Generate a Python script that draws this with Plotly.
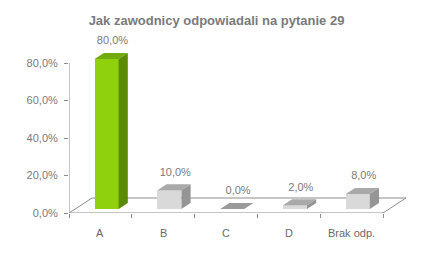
import plotly.graph_objects as go

# ---- data ----
categories = ["A", "B", "C", "D", "Brak odp."]
values = [80.0, 10.0, 0.0, 2.0, 8.0]
value_labels = ["80,0%", "10,0%", "0,0%", "2,0%", "8,0%"]
y_tickvals = [0, 20, 40, 60, 80]
y_ticktext = ["0,0%", "20,0%", "40,0%", "60,0%", "80,0%"]
title_text = "Jak zawodnicy odpowiadali na pytanie 29"

# ---- styling / geometry ----
W, H = 433, 256
ML, MR, MT, MB = 69, 20, 28, 43
px_per_cat = 62.8
px_per_pct = 1.875
depth_dx = 23 / px_per_cat      # floor depth in category units
depth_dy = 15 / px_per_pct      # floor depth in % units
t0, t1 = 0.27, 0.67              # bar depth position (front/back)
bar_w = 24 / px_per_cat

green = dict(front="#8ed10c", top="#71ab0e", side="#5b8a03")
gray = dict(front="#d9d9d9", top="#a9a9a9", side="#959595")
flat_col = "#9a9a9a"
axis_col = "#8c8c8c"
text_col = "#7a7a7a"
cat_col = "#6a6a6a"
font_fam = "Liberation Sans, Arial, sans-serif"

xmin = -0.5
xmax = xmin + (W - ML - MR) / px_per_cat
ymax = (H - MT - MB) / px_per_pct
n = len(categories)

fig = go.Figure()

# front faces (bars)
fx = [i + t0 * depth_dx for i in range(n)]
front_cols = [green["front"] if i == 0 else gray["front"] for i in range(n)]
fig.add_trace(go.Bar(
    x=fx, y=values, base=[t0 * depth_dy] * n, width=bar_w,
    marker=dict(color=front_cols, line=dict(width=0)),
    hoverinfo="skip", showlegend=False))

ddx = (t1 - t0) * depth_dx
ddy = (t1 - t0) * depth_dy
for i, v in enumerate(values):
    cols = green if i == 0 else gray
    x0 = fx[i] - bar_w / 2
    x1 = fx[i] + bar_w / 2
    b0 = t0 * depth_dy
    top_col = cols["top"] if v > 0 else flat_col
    # top face
    fig.add_trace(go.Scatter(
        x=[x0, x1, x1 + ddx, x0 + ddx, x0],
        y=[v + b0, v + b0, v + b0 + ddy, v + b0 + ddy, v + b0],
        mode="lines", fill="toself", fillcolor=top_col,
        line=dict(width=0, color=top_col), hoverinfo="skip", showlegend=False))
    if v > 0:
        # side face
        fig.add_trace(go.Scatter(
            x=[x1, x1, x1 + ddx, x1 + ddx, x1],
            y=[b0, v + b0, v + b0 + ddy, b0 + ddy, b0],
            mode="lines", fill="toself", fillcolor=cols["side"],
            line=dict(width=0, color=cols["side"]), hoverinfo="skip", showlegend=False))

# value labels
lab_x = [fx[i] + ddx / 2 + 0.02 for i in range(n)]
lab_y = [v + t1 * depth_dy + 6.0 for v in values]
fig.add_trace(go.Scatter(
    x=lab_x, y=lab_y, mode="text", text=value_labels,
    textfont=dict(family=font_fam, size=11, color=text_col),
    cliponaxis=False, hoverinfo="skip", showlegend=False))

# floor outline and vertical axis line (below traces)
x_end = xmin + n
line_style = dict(color=axis_col, width=1)
fig.add_shape(type="line", x0=xmin, y0=0, x1=x_end, y1=0, line=line_style, layer="below")
fig.add_shape(type="line", x0=x_end, y0=0, x1=x_end + depth_dx, y1=depth_dy, line=line_style, layer="below")
fig.add_shape(type="line", x0=xmin + depth_dx, y0=depth_dy, x1=x_end + depth_dx, y1=depth_dy, line=line_style, layer="below")
fig.add_shape(type="line", x0=xmin, y0=0, x1=xmin + depth_dx, y1=depth_dy, line=line_style, layer="below")
fig.add_shape(type="line", x0=xmin, y0=0, x1=xmin, y1=max(y_tickvals), line=line_style, layer="below")

# category labels
for i, c in enumerate(categories):
    fig.add_annotation(x=i, y=0, xref="x", yref="y", text=c, showarrow=False,
                       yshift=-20, font=dict(family=font_fam, size=11, color=cat_col))

fig.update_layout(
    width=W, height=H, margin=dict(l=ML, r=MR, t=MT, b=MB),
    paper_bgcolor="white", plot_bgcolor="white",
    title=dict(text="<b>" + title_text + "</b>", x=0.5, xanchor="center",
               y=1 - 20.5 / H, yanchor="middle", yref="container",
               font=dict(family=font_fam, size=13, color=text_col)),
    xaxis=dict(range=[xmin, xmax], showgrid=False, zeroline=False, showline=False,
               tickvals=[xmin + k for k in range(n + 1)], ticktext=[""] * (n + 1),
               ticks="outside", ticklen=4, tickcolor=axis_col, tickwidth=1),
    yaxis=dict(range=[0, ymax], showgrid=False, zeroline=False, showline=False,
               tickvals=y_tickvals, ticktext=y_ticktext, ticks="outside", ticklen=4,
               tickcolor=axis_col, tickwidth=1, ticklabelstandoff=4,
               tickfont=dict(family=font_fam, size=11, color=text_col)),
    bargap=0, showlegend=False,
)

fig.write_html("out.html")
